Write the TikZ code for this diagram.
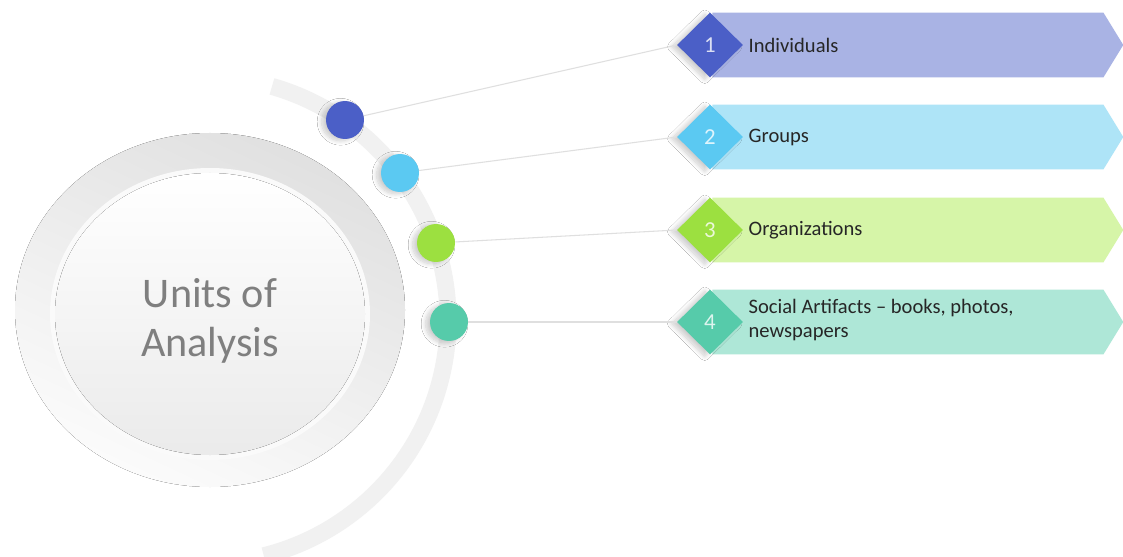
\documentclass[tikz,border=0pt]{standalone}
\usepackage{fontspec}
\setmainfont{Carlito}
\usetikzlibrary{positioning,shapes.geometric,shapes.symbols,shadows.blur}

\definecolor{blueA}{HTML}{4B5FC7}
\definecolor{blueB}{HTML}{A9B3E4}
\definecolor{skyA}{HTML}{5BC9F2}
\definecolor{skyB}{HTML}{AEE4F7}
\definecolor{greenA}{HTML}{9CE040}
\definecolor{greenB}{HTML}{D6F5A8}
\definecolor{tealA}{HTML}{56CBAA}
\definecolor{tealB}{HTML}{AEE7D7}
\definecolor{titlegray}{HTML}{7F7F7F}

\begin{document}
\begin{tikzpicture}[x=0.02cm,y=-0.02cm,
  dot/.style={circle,minimum size=0.76cm,inner sep=0pt,
    blur shadow={shadow xshift=-2.5pt,shadow yshift=-1pt,shadow blur radius=2.5pt,shadow opacity=20,shadow blur steps=10}},
  gem/.style={diamond,minimum width=1.32cm,minimum height=1.3cm,inner sep=0pt,
    text=white,text opacity=0.8,font=\fontsize{13}{13}\selectfont,
    blur shadow={shadow xshift=-3pt,shadow yshift=-1pt,shadow blur radius=2.5pt,shadow opacity=20,shadow blur steps=10}},
  banner/.style={signal,signal to=east,signal pointer angle=117,anchor=west,
    minimum width=8.22cm,minimum height=1.3cm,inner sep=0pt},
  itemtext/.style={inner sep=0pt,align=left,text=black!85,font=\fontsize{11.7}{13.8}\selectfont},
  wire/.style={gray!25,line width=0.6pt}]
  \useasboundingbox[fill=white] (0,0) rectangle (1123,557);
  % big disk
  \fill[top color=gray!24,bottom color=gray!3,shading angle=-25] (210,310) circle[x radius=195,y radius=177];
  \fill[gray!4] (210,314) circle[x radius=160,y radius=146];
  \fill[top color=white,bottom color=gray!16] (210,314) circle[x radius=155,y radius=141];
  \node[align=center,text=titlegray,font=\fontsize{24}{27.5}\selectfont] (title) at (210,321) {Units of\\Analysis};
  % arc
  \draw[gray!11,line width=0.34cm] (205,320) ++(-74:243) arc[start angle=-74,end angle=76,radius=243];
  % banners
  \node[banner,fill=blueB] (b1) at (712,45) {};
  \node[banner,fill=skyB] (b2) at (712,137) {};
  \node[banner,fill=greenB] (b3) at (712,230) {};
  \node[banner,fill=tealB] (b4) at (712,322) {};
  % dots
  \node[dot,fill=blueA] (p1) at (345,120) {};
  \node[dot,fill=skyA] (p2) at (400,173) {};
  \node[dot,fill=greenA] (p3) at (436,243) {};
  \node[dot,fill=tealA] (p4) at (449,322) {};
  % diamonds
  \node[gem,fill=blueA] (d1) at (710,45) {1};
  \node[gem,fill=skyA] (d2) at (710,137) {2};
  \node[gem,fill=greenA] (d3) at (710,230) {3};
  \node[gem,fill=tealA] (d4) at (710,322) {4};
  % wires
  \draw[wire] (p1) -- (d1.west);
  \draw[wire] (p2) -- (d2.west);
  \draw[wire] (p3) -- (d3.west);
  \draw[wire] (p4) -- (d4.west);
  % labels
  \node[itemtext,anchor=west] (t1) at ([xshift=0.1cm]d1.east) {Individuals};
  \node[itemtext,anchor=west] (t2) at ([xshift=0.1cm]d2.east) {Groups};
  \node[itemtext,anchor=west] (t3) at ([xshift=0.1cm]d3.east) {Organizations};
  \node[itemtext,anchor=west] (t4) at ([xshift=0.1cm,yshift=0.04cm]d4.east) {Social Artifacts -- books, photos,\\newspapers};
\end{tikzpicture}
\end{document}
